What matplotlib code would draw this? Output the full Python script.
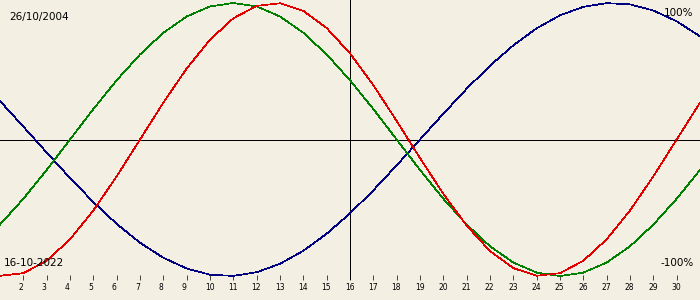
import matplotlib
matplotlib.use("Agg")
import matplotlib.pyplot as plt
import matplotlib.transforms as mtransforms

# biorhythm, values in percent, one per day of the month
days = list(range(1, 32))
physical = [-99.8, -97.9, -88.8, -73.1, -52.0, -27.0, 0.0, 27.0, 52.0, 73.1,
            88.8, 97.9, 99.8, 94.2, 81.7, 63.1, 39.8, 13.6, -13.6, -39.8,
            -63.1, -81.7, -94.2, -99.8, -97.9, -88.8, -73.1, -52.0, -27.0, 0.0,
            27.0]
emotional = [-62.3, -43.4, -22.3, 0.0, 22.3, 43.4, 62.3, 78.2, 90.1, 97.5,
             100.0, 97.5, 90.1, 78.2, 62.3, 43.4, 22.3, 0.0, -22.3, -43.4,
             -62.3, -78.2, -90.1, -97.5, -100.0, -97.5, -90.1, -78.2, -62.3, -43.4,
             -22.3]
intellectual = [28.2, 9.5, -9.5, -28.2, -45.8, -61.8, -75.6, -86.6, -94.5, -99.0,
                -99.9, -97.2, -91.0, -81.5, -69.0, -54.1, -37.2, -18.9, 0.0, 18.9,
                37.2, 54.1, 69.0, 81.5, 91.0, 97.2, 99.9, 99.0, 94.5, 86.6,
                75.6]
tick_days = list(range(2, 31))
today = 16
birth_label = "26/10/2004"
date_label = "16-10-2022"

BG = "#f3efe3"
W, H = 700, 300
LW = 0.5  # one pixel, no antialiasing

fig = plt.figure(figsize=(7, 3), dpi=100, facecolor=BG)
ax = fig.add_axes([0, 20 / H, 1, 280 / H], facecolor=BG)
ax.set_xlim(1, 31)
ax.set_ylim(-102.9, 102.2)
for s in ax.spines.values():
    s.set_visible(False)

ax.axhline(0, color="black", lw=LW, antialiased=False)
ax.axvline(today, color="black", lw=LW, antialiased=False)

ax.plot(days, intellectual, color="#000080", lw=LW, antialiased=False)
ax.plot(days, emotional, color="#008000", lw=LW, antialiased=False)
ax.plot(days, physical, color="#e00000", lw=LW, antialiased=False)

ax.set_xticks(tick_days)
ax.set_yticks([])
ax.tick_params(axis="x", direction="in", length=3.6, width=LW, color="black",
               labelbottom=False, bottom=True)

# day numbers under the ticks, left aligned a few pixels before the tick
trans = mtransforms.blended_transform_factory(ax.transData, fig.transFigure)
trans = trans + mtransforms.ScaledTranslation(-5 / 100, 0, fig.dpi_scale_trans)
for d in tick_days:
    ax.text(d, 1 - 290 / H, str(d), transform=trans, ha="left", va="baseline",
            fontsize=5.5, color="black", clip_on=False)

fig.text(9 / W, 1 - 20 / H, birth_label, ha="left", va="baseline", fontsize=7.5)
fig.text(693 / W, 1 - 16 / H, "100%", ha="right", va="baseline", fontsize=7.5)
fig.text(4 / W, 1 - 266 / H, date_label, ha="left", va="baseline", fontsize=7.5)
fig.text(694 / W, 1 - 266 / H, "-100%", ha="right", va="baseline", fontsize=7.5)

fig.savefig("out.png", dpi=100, facecolor=BG)
